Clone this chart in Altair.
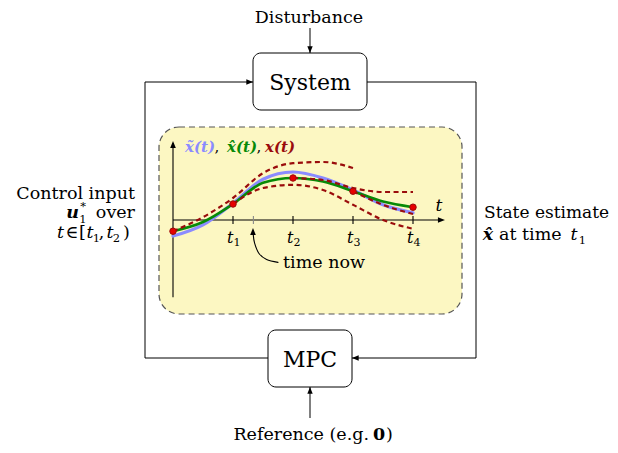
import altair as alt
import pandas as pd

FONT = "DejaVu Serif"
W, H = 602, 437

# ---------------- inner plot data (t in sample periods, value in arbitrary units) -------------
t_knots = [0, 0.5, 1, 1.5, 2, 2.5, 3, 3.5, 4]
x_tilde = [-0.40, -0.12, 0.42, 1.02, 1.20, 1.05, 0.75, 0.38, 0.18]
x_hat = [-0.28, -0.05, 0.40, 0.93, 1.05, 0.96, 0.72, 0.46, 0.32]

pred0_t = [0, 0.5, 1, 1.5, 2, 2.5, 3]
pred0_v = [-0.28, 0.07, 0.55, 1.17, 1.42, 1.45, 1.30]
pred1_t = [1, 1.5, 2, 2.5, 3, 3.5, 4]
pred1_v = [0.40, 0.80, 0.88, 0.75, 0.38, 0.00, -0.22]
pred2_t = [2, 2.5, 3, 3.5, 4]
pred2_v = [1.05, 1.00, 0.80, 0.70, 0.70]
pred3_t = [3, 3.5, 4]
pred3_v = [0.72, 0.38, 0.15]

sample_t = [0, 1, 2, 3, 4]
sample_v = [-0.28, 0.40, 1.05, 0.72, 0.32]
tick_t = [1, 2, 3, 4]
tick_sub = ["1", "2", "3", "4"]
now_t = 1.34

# ---------------- texts ----------------
txt_disturbance = "Disturbance"
txt_system = "System"
txt_mpc = "MPC"
txt_reference = "Reference (e.g."
txt_left = ["Control input", "over"]
txt_right = ["State estimate", "at time"]
txt_now = "time now"
txt_legend = ["x\u0303(t)", "x\u0302(t)", "x(t)"]

BLUE = "#8b8bff"
GREEN = "#078a07"
DRED = "#9a0c0c"
RED = "#e60000"
YELLOW = "#fcf7c2"

# ---------------- scales ----------------
PX = alt.Scale(domain=[8, 8 + W], range=[0, W])
PY = alt.Scale(domain=[8, 8 + H], range=[0, H])
TX = alt.Scale(domain=[0, 4], range=[165, 405])
TV = alt.Scale(domain=[-2, 2], range=[292, 132])

ARROW = "M0,0L-1,-0.4L-1,0.4Z"


def rules(df, xs, ys, color="black", width=1.0, dash=None):
    kw = dict(color=color, strokeWidth=width)
    if dash:
        kw["strokeDash"] = dash
    return alt.Chart(df).mark_rule(**kw).encode(
        x=alt.X("x:Q", scale=xs, axis=None), x2="x2:Q",
        y=alt.Y("y:Q", scale=ys, axis=None), y2="y2:Q")


def heads(df, xs, ys, size=180):
    return alt.Chart(df).mark_point(shape=ARROW, filled=True, color="black",
                                    size=size, opacity=1).encode(
        x=alt.X("x:Q", scale=xs, axis=None), y=alt.Y("y:Q", scale=ys, axis=None),
        angle=alt.Angle("a:Q", scale=None))


def texts(pieces, xs, ys):
    df = pd.DataFrame(pieces, columns=["label", "x", "y", "size", "weight", "style", "align", "color"])
    out = []
    for (size, weight, style, align), g in df.groupby(["size", "weight", "style", "align"]):
        out.append(alt.Chart(g).mark_text(font=FONT, fontSize=float(size), fontWeight=weight,
                                          fontStyle=style, align=align, baseline="alphabetic").encode(
            x=alt.X("x:Q", scale=xs, axis=None), y=alt.Y("y:Q", scale=ys, axis=None),
            text="label:N", color=alt.Color("color:N", scale=None)))
    return out


# ---------------- diagram (pixel layout) ----------------
loop = pd.DataFrame([
    (145, 82, 253, 82), (145, 82, 145, 358), (145, 358, 268, 358),
    (367, 82, 476, 82), (476, 82, 476, 358), (352, 358, 476, 358),
    (310, 28, 310, 53), (310, 387, 310, 418),
], columns=["x", "y", "x2", "y2"])
loop_heads = pd.DataFrame([(253, 82, 0), (310, 53, 90), (352, 358, 180), (310, 387, 270)],
                          columns=["x", "y", "a"])
blocks = pd.DataFrame({"name": [txt_system, txt_mpc], "x": [253, 268], "x2": [367, 352],
                       "y": [53, 330], "y2": [110, 387]})
panel = pd.DataFrame({"x": [159], "x2": [462], "y": [127], "y2": [314]})

d_layers = [
    rules(loop, PX, PY),
    heads(loop_heads, PX, PY),
    alt.Chart(blocks).mark_rect(fill="white", stroke="black", strokeWidth=1, cornerRadius=8).encode(
        x=alt.X("x:Q", scale=PX, axis=None), x2="x2:Q", y=alt.Y("y:Q", scale=PY, axis=None), y2="y2:Q"),
    alt.Chart(panel).mark_rect(fill=YELLOW, stroke="#555555", strokeWidth=1.2, strokeDash=[6, 4],
                               cornerRadius=20).encode(
        x=alt.X("x:Q", scale=PX, axis=None), x2="x2:Q", y=alt.Y("y:Q", scale=PY, axis=None), y2="y2:Q"),
]

N, B, I = "normal", "bold", "italic"
F = 17.5   # body text
S = 11.5   # sub/superscripts
C = "center"
pieces = [
    (txt_disturbance, 309, 23, F, N, N, C, "black"),
    (txt_system, 310, 90, 22, N, N, C, "black"),
    (txt_mpc, 310, 367, 22, N, N, C, "black"),
    (txt_reference, 369, 440, F, N, N, "right", "black"),
    ("0", 379, 440, F, B, N, C, "black"),
    (")", 389.5, 440, F, N, N, C, "black"),
    (txt_left[0], 135, 199, F, N, N, "right", "black"),
    (txt_left[1], 135, 218, F, N, N, "right", "black"),
    ("u", 72.5, 218, F, B, I, C, "black"),
    ("*", 83, 210, S, N, N, C, "black"),
    ("1", 83, 223, S, N, N, C, "black"),
    ("t", 60.5, 238, F, N, I, C, "black"),
    ("\u2208", 72, 238, F, N, N, C, "black"),
    ("[", 82.5, 238, F, N, N, C, "black"),
    ("t", 90, 238, F, N, I, C, "black"),
    ("1", 96.5, 241.5, S, N, N, C, "black"),
    (",", 101.5, 238, F, N, N, C, "black"),
    ("t", 110, 238, F, N, I, C, "black"),
    ("2", 116.5, 241.5, S, N, N, C, "black"),
    (")", 126.5, 238, F, N, N, C, "black"),
    (txt_right[0], 484, 218, 17, N, N, "left", "black"),
    ("x\u0302", 488, 240, F, B, I, C, "black"),
    (txt_right[1], 499, 240, F, N, N, "left", "black"),
    ("t", 574, 240, F, N, I, C, "black"),
    ("1", 582.5, 243.5, S, N, N, C, "black"),
    # legend of the inner plot
    (txt_legend[0], 200, 152, 15, B, I, C, BLUE),
    (",", 217, 152, 15, N, N, C, "black"),
    (txt_legend[1], 242, 152, 15, B, I, C, GREEN),
    (",", 259, 152, 15, N, N, C, "black"),
    (txt_legend[2], 280, 152, 15, B, I, C, DRED),
    ("t", 439, 211, 17, N, I, C, "black"),
    (txt_now, 283, 268, F, N, N, "left", "black"),
]
d_layers += texts(pieces, PX, PY)
diagram = alt.layer(*d_layers)

# ---------------- inner plot (t / value scales) ----------------
curves = []
for name, ts, vs in [("tilde", t_knots, x_tilde), ("hat", t_knots, x_hat)]:
    for k, (t, v) in enumerate(zip(ts, vs)):
        curves.append((name, k, t, v))
curves = pd.DataFrame(curves, columns=["s", "o", "t", "v"])

preds = []
for name, ts, vs in [("p0", pred0_t, pred0_v), ("p1", pred1_t, pred1_v),
                     ("p2", pred2_t, pred2_v), ("p3", pred3_t, pred3_v)]:
    for k, (t, v) in enumerate(zip(ts, vs)):
        preds.append((name, k, t, v))
preds = pd.DataFrame(preds, columns=["s", "o", "t", "v"])

samples = pd.DataFrame({"t": sample_t, "v": sample_v})

axes = pd.DataFrame([(0, 0, 4.48, 0), (0, -1.93, 0, 1.92)] +
                    [(k, -0.1, k, 0.1) for k in tick_t], columns=["x", "y", "x2", "y2"])
now_tick = pd.DataFrame([(now_t, -0.1, now_t, 0.1)], columns=["x", "y", "x2", "y2"])
axis_heads = pd.DataFrame([(4.533, 0, 0), (0, 1.975, 270), (1.333, -0.2, 270)], columns=["x", "y", "a"])
now_curve = pd.DataFrame({"t": [1.337, 1.36, 1.43, 1.56, 1.75],
                          "v": [-0.36, -0.58, -0.83, -0.99, -1.06], "o": [0, 1, 2, 3, 4]})
tick_labels = pd.DataFrame({"x": tick_t, "y": [-0.575] * 4, "sub": tick_sub})


def line(df, color, width, dash=None, interp="monotone"):
    kw = dict(color=color, strokeWidth=width, interpolate=interp, strokeCap="round")
    if dash:
        kw["strokeDash"] = dash
        kw["strokeCap"] = "butt"
    return alt.Chart(df).mark_line(**kw).encode(
        x=alt.X("t:Q", scale=TX, axis=None), y=alt.Y("v:Q", scale=TV, axis=None), order="o:Q")


i_layers = [
    rules(axes, TX, TV, width=1.1),
    rules(now_tick, TX, TV, color="#8a8a8a", width=1.1),
    heads(axis_heads, TX, TV, size=200),
    line(now_curve, "black", 1.1, interp="cardinal"),
    line(curves[curves.s == "tilde"], BLUE, 3.2),
    line(curves[curves.s == "hat"], GREEN, 2.6),
]
for nm in ["p0", "p1", "p2", "p3"]:
    i_layers.append(line(preds[preds.s == nm], DRED, 2.2, dash=[5, 3.5]))
i_layers += [
    alt.Chart(samples).mark_point(shape="circle", filled=True, fill=RED, stroke=DRED, strokeWidth=1,
                                  size=42, opacity=1).encode(
        x=alt.X("t:Q", scale=TX, axis=None), y=alt.Y("v:Q", scale=TV, axis=None)),
    alt.Chart(tick_labels).mark_text(font=FONT, fontSize=16, fontStyle="italic", align="right",
                                     baseline="alphabetic", text="t", dx=0.5).encode(
        x=alt.X("x:Q", scale=TX, axis=None), y=alt.Y("y:Q", scale=TV, axis=None)),
    alt.Chart(tick_labels).mark_text(font=FONT, fontSize=11, align="left",
                                     baseline="alphabetic", dx=0.5, dy=3).encode(
        x=alt.X("x:Q", scale=TX, axis=None), y=alt.Y("y:Q", scale=TV, axis=None), text="sub:N"),
]
inner = alt.layer(*i_layers)

chart = alt.layer(diagram, inner).resolve_scale(x="independent", y="independent").properties(
    width=W, height=H, padding=0, autosize=alt.AutoSizeParams(type="none"), background="white"
).configure_view(strokeWidth=0)

chart.save("out.html", embed_options={"renderer": "svg", "actions": False})
